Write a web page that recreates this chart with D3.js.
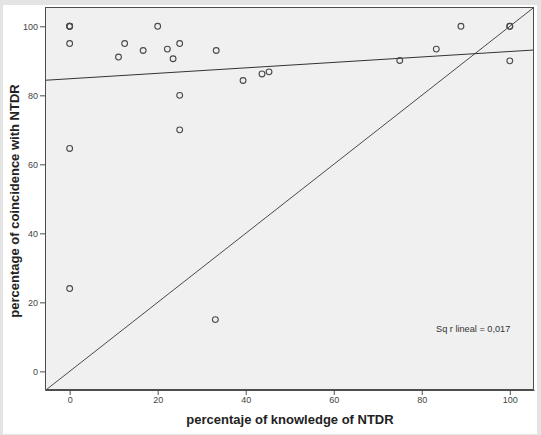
<!DOCTYPE html>
<html>
<head>
<meta charset="utf-8">
<script src="https://cdn.jsdelivr.net/npm/d3@7"></script>
<style>
  html, body { margin: 0; padding: 0; background: #e4e4e4; }
  svg { display: block; }
</style>
</head>
<body>
<script>
// Data
const knowledge = [0, 0, 0, 0, 0, 0, 11.1, 12.5, 16.7, 20, 22.2, 23.5, 25, 25, 25, 33.3, 33.1, 39.4, 43.7, 45.3, 75, 83.3, 88.9, 100, 100, 100];
const coincidence = [100, 100, 95, 64.6, 24, 100, 91.1, 95, 93, 100, 93.4, 90.6, 95, 80, 70, 93, 15, 84.3, 86.2, 86.8, 90.1, 93.4, 100, 100, 100, 90];
const xTicks = [0, 20, 40, 60, 80, 100];
const yTicks = [0, 20, 40, 60, 80, 100];
const fitIntercept = 84.8;
const fitSlope = 0.079;
const rSquaredLabel = "Sq r lineal = 0,017";
const xTitle = "percentaje of knowledge of NTDR";
const yTitle = "percentage of coincidence with NTDR";

const W = 541, H = 435;
const plot = { left: 45, right: 534, top: 7, bottom: 390 };

const svg = d3.select("body").append("svg").attr("width", W).attr("height", H);

// white card with grey border
svg.append("rect").attr("x", 3).attr("y", 5).attr("width", 534).attr("height", 429).attr("fill", "#ffffff");

const x = d3.scaleLinear().domain([-5.6, 105.5]).range([plot.left, plot.right]);
const y = d3.scaleLinear().domain([-5.4, 105.6]).range([plot.bottom, plot.top]);

svg.append("rect")
  .attr("x", plot.left).attr("y", plot.top)
  .attr("width", plot.right - plot.left).attr("height", plot.bottom - plot.top)
  .attr("fill", "#f0f0f0");

svg.append("clipPath").attr("id", "clip").append("rect")
  .attr("x", plot.left).attr("y", plot.top)
  .attr("width", plot.right - plot.left).attr("height", plot.bottom - plot.top);

const g = svg.append("g").attr("clip-path", "url(#clip)");

// reference line y = x
const dMin = Math.min(x.domain()[0], y.domain()[0]) - 1;
const dMax = Math.max(x.domain()[1], y.domain()[1]) + 1;
g.append("line")
  .attr("x1", x(dMin)).attr("y1", y(dMin))
  .attr("x2", x(dMax)).attr("y2", y(dMax))
  .attr("stroke", "#4a4a4a").attr("stroke-width", 1);

// fit line
const fx0 = x.domain()[0], fx1 = x.domain()[1];
g.append("line")
  .attr("x1", x(fx0)).attr("y1", y(fitIntercept + fitSlope * fx0))
  .attr("x2", x(fx1)).attr("y2", y(fitIntercept + fitSlope * fx1))
  .attr("stroke", "#333").attr("stroke-width", 1);

// points
g.selectAll("circle.pt")
  .data(knowledge.map((k, i) => [k, coincidence[i]]))
  .join("circle")
  .attr("class", "pt")
  .attr("cx", d => x(d[0])).attr("cy", d => y(d[1]))
  .attr("r", 2.9)
  .attr("fill", "none")
  .attr("stroke", "#4a4a4a")
  .attr("stroke-width", 1.1);

// frame
svg.append("rect")
  .attr("x", plot.left + 0.5).attr("y", plot.top + 0.5)
  .attr("width", plot.right - plot.left - 1).attr("height", plot.bottom - plot.top - 1)
  .attr("fill", "none").attr("stroke", "#4d4d4d").attr("stroke-width", 1);

// axes
const xAxis = d3.axisBottom(x).tickValues(xTicks).tickSize(5).tickSizeOuter(0).tickPadding(2);
const yAxis = d3.axisLeft(y).tickValues(yTicks).tickSize(5).tickSizeOuter(0).tickPadding(2);

const gx = svg.append("g").attr("transform", `translate(0,${plot.bottom})`).call(xAxis);
const gy = svg.append("g").attr("transform", `translate(${plot.left},0)`).call(yAxis);

[gx, gy].forEach(a => {
  a.select(".domain").attr("stroke", "#4d4d4d");
  a.selectAll(".tick line").attr("stroke", "#4d4d4d");
  a.selectAll(".tick text")
    .attr("fill", "#444")
    .style("font-family", "Liberation Sans, Arial, sans-serif")
    .style("font-size", "9px");
});

// titles
svg.append("text")
  .attr("x", 290).attr("y", 424)
  .attr("text-anchor", "middle")
  .style("font-family", "Liberation Sans, Arial, sans-serif")
  .style("font-size", "13px").style("font-weight", "bold")
  .attr("fill", "#222")
  .text(xTitle);

svg.append("text")
  .attr("transform", "translate(19,201) rotate(-90)")
  .attr("text-anchor", "middle")
  .style("font-family", "Liberation Sans, Arial, sans-serif")
  .style("font-size", "13px").style("font-weight", "bold")
  .attr("fill", "#222")
  .text(yTitle);

svg.append("text")
  .attr("x", 436).attr("y", 332)
  .style("font-family", "Liberation Sans, Arial, sans-serif")
  .style("font-size", "9.2px")
  .attr("fill", "#333")
  .text(rSquaredLabel);
</script>
</body>
</html>
